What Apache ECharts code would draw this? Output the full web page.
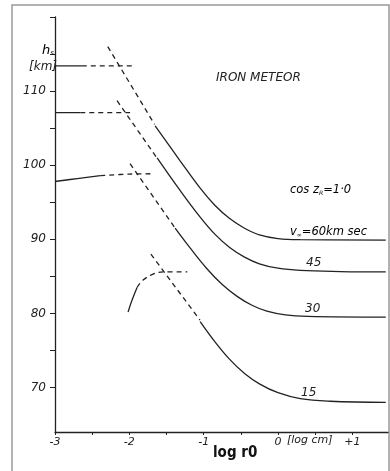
<!DOCTYPE html>
<html>
<head>
<meta charset="utf-8">
<script src="https://cdn.jsdelivr.net/npm/echarts@6/dist/echarts.min.js"></script>
<style>
  html, body { margin: 0; padding: 0; background: #fff; }
  #chart { width: 390px; height: 471px; }
</style>
</head>
<body>
<div id="chart"></div>
<script>
// log r0 [log cm] vs h_s [km], iron meteor, cos z_R = 1.0
var xTicks = [-3, -2.5, -2, -1.5, -1, -0.5, 0, 0.5, 1];
var xLabels = [-3, -2, -1, 0, 1];
var yTicks = [70, 75, 80, 85, 90, 95, 100, 105, 110, 115, 120];
var yLabels = [70, 80, 90, 100, 110];

// v = 60 km/sec
var curve60 = [[-1.653,105.3],[-1.317,100.6],[-1.047,96.9],[-0.85,94.6],[-0.65,92.8],[-0.45,91.5],[-0.25,90.6],[0,90.1],[0.3,89.95],[1.45,89.9]];
var asym60 = [[-2.29,116.0],[-1.66,105.5]];
var flat60 = [[-3,113.4],[-2.64,113.4]];
var flat60d = [[-2.64,113.4],[-1.95,113.4]];
// v = 45
var curve45 = [[-1.626,101.0],[-1.317,96.6],[-1.047,93.0],[-0.85,90.7],[-0.65,88.9],[-0.45,87.6],[-0.25,86.7],[0,86.1],[0.3,85.8],[0.84,85.65],[1.45,85.6]];
var asym45 = [[-2.165,108.7],[-1.63,101.0]];
var flat45 = [[-3,107.1],[-2.66,107.1]];
var flat45d = [[-2.66,107.1],[-1.99,107.1]];
// v = 30
var curve30 = [[-1.384,91.5],[-1.18,88.8],[-0.953,86.0],[-0.75,83.9],[-0.55,82.3],[-0.35,81.1],[-0.15,80.3],[0.1,79.8],[0.4,79.6],[1.45,79.5]];
var asym30 = [[-1.99,100.2],[-1.39,91.6]];
var flat30 = [[-3,97.8],[-2.7,98.2],[-2.39,98.6]];
var flat30d = [[-2.39,98.6],[-2.0,98.8],[-1.69,98.85]];
// v = 15
var curve15 = [[-1.047,78.9],[-0.85,76.2],[-0.65,73.8],[-0.45,71.9],[-0.25,70.5],[0,69.3],[0.3,68.5],[0.7,68.15],[1.45,68.0]];
var asym15 = [[-1.71,88.0],[-1.05,79.1]];
var arc15 = [[-2.017,80.2],[-1.963,81.8],[-1.896,83.5]];
var arc15d = [[-1.896,83.5],[-1.815,84.5],[-1.68,85.3],[-1.545,85.6],[-1.22,85.6]];

var ink = '#222';
var txt = {fontFamily: 'DejaVu Sans', fontStyle: 'italic', fill: ink};

function line(data, dashed, smooth) {
  return {
    type: 'line', data: data, symbol: 'none', smooth: smooth ? 0.4 : false,
    lineStyle: {color: ink, width: 1.3, type: dashed ? [5, 4] : 'solid'},
    silent: true
  };
}

var myChart = echarts.init(document.getElementById('chart'));
var option = {
  backgroundColor: '#fff',
  animation: false,
  grid: {left: 55, top: 17, right: 2, bottom: 39},
  xAxis: {
    type: 'value', min: -3, max: 1.48,
    axisLine: {onZero: false, lineStyle: {color: ink, width: 1.3}},
    axisTick: {length: 3, customValues: xTicks, lineStyle: {color: ink}},
    axisLabel: {customValues: xLabels, margin: 5, color: ink, fontFamily: 'DejaVu Sans', fontStyle: 'italic', fontSize: 11,
      formatter: function (v) { return v === 1 ? '+1' : String(v); }},
    splitLine: {show: false}
  },
  yAxis: {
    type: 'value', min: 64, max: 120,
    axisLine: {show: true, onZero: false, lineStyle: {color: ink, width: 1.3}},
    axisTick: {show: true, length: 5, customValues: yTicks, lineStyle: {color: ink}},
    axisLabel: {customValues: yLabels, margin: 9, color: ink, fontFamily: 'DejaVu Sans', fontStyle: 'italic', fontSize: 12},
    splitLine: {show: false}
  },
  series: [
    line(curve60, false, true), line(asym60, true), line(flat60, false), line(flat60d, true),
    line(curve45, false, true), line(asym45, true), line(flat45, false), line(flat45d, true),
    line(curve30, false, true), line(asym30, true), line(flat30, false, true), line(flat30d, true, true),
    line(curve15, false, true), line(asym15, true), line(arc15, false, true), line(arc15d, true, true)
  ],
  graphic: [
    {type: 'rect', shape: {x: 12, y: 5, width: 377, height: 470}, style: {fill: 'none', stroke: '#999', lineWidth: 1.5}, silent: true},
    {type: 'text', left: 42, top: 44, style: {text: '{h|h}{s|s}', rich: {h: {fontSize: 13, fontStyle: 'italic', fontFamily: 'DejaVu Sans', color: ink}, s: {fontSize: 7, fontStyle: 'italic', fontFamily: 'DejaVu Sans', color: ink, padding: [6, 0, 0, 0]}}}},
    {type: 'text', left: 29, top: 61, style: Object.assign({text: '[km]', fontSize: 12}, txt)},
    {type: 'text', left: 216, top: 72, style: Object.assign({text: 'IRON METEOR', fontSize: 12}, txt)},
    {type: 'text', left: 290, top: 184, style: {text: '{a|cos z}{b|R}{a|=1·0}', rich: {a: {fontSize: 11.5, fontStyle: 'italic', fontFamily: 'DejaVu Sans', color: ink}, b: {fontSize: 6, fontStyle: 'italic', fontFamily: 'DejaVu Sans', color: ink, padding: [6, 0, 0, 0]}}}},
    {type: 'text', left: 290, top: 226, style: {text: '{a|v}{b|∞}{a|=60km sec}', rich: {a: {fontSize: 11.5, fontStyle: 'italic', fontFamily: 'DejaVu Sans', color: ink}, b: {fontSize: 6, fontFamily: 'DejaVu Sans', color: ink, padding: [6, 0, 0, 0]}}}},
    {type: 'text', left: 306, top: 257, style: Object.assign({text: '45', fontSize: 12}, txt)},
    {type: 'text', left: 305, top: 303, style: Object.assign({text: '30', fontSize: 12}, txt)},
    {type: 'text', left: 301, top: 387, style: Object.assign({text: '15', fontSize: 12}, txt)},
    {type: 'text', left: 287, top: 435, style: Object.assign({text: '[log cm]', fontSize: 11}, txt)},
    {type: 'text', left: 213, top: 446, style: {text: 'log r0', fontFamily: 'Liberation Sans Narrow, DejaVu Sans Condensed, sans-serif', fontWeight: 'bold', fontSize: 15, fill: '#111'}}
  ]
};
myChart.setOption(option);
</script>
</body>
</html>
